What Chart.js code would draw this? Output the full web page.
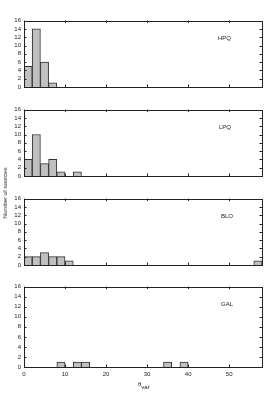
<!DOCTYPE html>
<html>
<head>
<meta charset="utf-8">
<script src="https://cdn.jsdelivr.net/npm/chart.js@4/dist/chart.umd.min.js"></script>
<style>
  html, body { margin: 0; padding: 0; background: #fff; }
  body { width: 271px; height: 393px; position: relative; overflow: hidden;
         font-family: "Liberation Sans", Arial, sans-serif; color: #222; }
  canvas { position: absolute; left: 0; }
  .lbl { position: absolute; font-size: 6px; line-height: 6px; white-space: nowrap; }
  #ytitle { left: 5px; top: 193px; transform: translate(-50%, -50%) rotate(-90deg); }
  #xtitle { left: 138px; top: 381px; font-size: 6px; }
  #xtitle sub { font-size: 6px; vertical-align: -3px; }
</style>
</head>
<body>
<canvas id="c0"></canvas>
<canvas id="c1"></canvas>
<canvas id="c2"></canvas>
<canvas id="c3"></canvas>
<div class="lbl" id="ytitle">Number of sources</div>
<div class="lbl" id="xtitle">θ<sub>var</sub></div>
<script>
// bin lower edges (width 2) and counts per class
const classNames = ["HPQ", "LPQ", "BLO", "GAL"];
const hpqBins = [0, 2, 4, 6];
const hpqCounts = [5, 14, 6, 1];
const lpqBins = [0, 2, 4, 6, 8, 12];
const lpqCounts = [4, 10, 3, 4, 1, 1];
const bloBins = [0, 2, 4, 6, 8, 10, 56];
const bloCounts = [2, 2, 3, 2, 2, 1, 1];
const galBins = [8, 12, 14, 34, 38];
const galCounts = [1, 1, 1, 1, 1];
const xTicks = [0, 10, 20, 30, 40, 50];
const yTicks = [0, 2, 4, 6, 8, 10, 12, 14, 16];

const panels = [
  { bins: hpqBins, counts: hpqCounts },
  { bins: lpqBins, counts: lpqCounts },
  { bins: bloBins, counts: bloCounts },
  { bins: galBins, counts: galCounts },
];

const PANEL_TOP = [19, 108, 197, 285];
const PANEL_H = 82;
const PAD = 5;
const LABEL_POS = [[218, 35], [219, 124], [221, 213], [221, 301]];

const framePlugin = {
  id: "frame",
  afterDatasetsDraw(chart) {
    const { ctx, chartArea: a, scales } = chart;
    ctx.save();
    ctx.strokeStyle = "#222";
    ctx.lineWidth = 1;
    ctx.beginPath();
    const t = 2.5;
    yTicks.forEach((v) => {
      const y = Math.round(scales.y.getPixelForValue(v)) + 0.5;
      ctx.moveTo(a.left, y); ctx.lineTo(a.left + t, y);
      ctx.moveTo(a.right, y); ctx.lineTo(a.right - t, y);
    });
    xTicks.forEach((v) => {
      const x = Math.round(scales.x.getPixelForValue(v)) + 0.5;
      ctx.moveTo(x, a.top); ctx.lineTo(x, a.top + t);
      ctx.moveTo(x, a.bottom); ctx.lineTo(x, a.bottom - t);
    });
    ctx.stroke();
    ctx.strokeRect(Math.round(a.left) + 0.5, Math.round(a.top) + 0.5,
      Math.round(a.right - a.left), Math.round(a.bottom - a.top));
    ctx.restore();
  },
};

panels.forEach((p, i) => {
  const last = i === panels.length - 1;
  const cv = document.getElementById("c" + i);
  const h = PAD + PANEL_H + (last ? 14 : PAD);
  cv.style.top = (PANEL_TOP[i] - PAD) + "px";
  cv.style.width = "271px";
  cv.style.height = h + "px";
  cv.width = 271;
  cv.height = h;

  const lab = document.createElement("div");
  lab.className = "lbl";
  lab.textContent = classNames[i];
  lab.style.left = LABEL_POS[i][0] + "px";
  lab.style.top = LABEL_POS[i][1] + "px";
  document.body.appendChild(lab);

  new Chart(cv.getContext("2d"), {
    type: "bar",
    data: {
      datasets: [{
        data: p.bins.map((b, k) => ({ x: b + 1, y: p.counts[k] })),
        backgroundColor: "#c0c0c0",
        borderColor: "#333",
        borderWidth: 1,
        barPercentage: 1,
        categoryPercentage: 1,
      }],
    },
    options: {
      responsive: false,
      animation: false,
      events: [],
      layout: { padding: { left: 0, right: 9, top: PAD, bottom: last ? 0 : PAD } },
      plugins: { legend: { display: false }, tooltip: { enabled: false } },
      scales: {
        x: {
          type: "linear",
          min: 0,
          max: 58,
          offset: false,
          display: last,
          afterFit: (s) => { s.height = 14; },
          afterBuildTicks: (s) => { s.ticks = xTicks.map((v) => ({ value: v })); },
          grid: { display: false, drawTicks: false },
          border: { display: false },
          ticks: {
            padding: 4,
            maxRotation: 0,
            autoSkip: false,
            color: "#222",
            font: { size: 6, family: "Liberation Sans" },
          },
        },
        y: {
          min: 0,
          max: 16,
          afterFit: (s) => { s.width = 24; },
          afterBuildTicks: (s) => { s.ticks = yTicks.map((v) => ({ value: v })); },
          grid: { display: false, drawTicks: false },
          border: { display: false },
          ticks: {
            padding: 3,
            autoSkip: false,
            color: "#222",
            font: { size: 6, family: "Liberation Sans" },
          },
        },
      },
    },
    plugins: [framePlugin],
  });
});
</script>
</body>
</html>
